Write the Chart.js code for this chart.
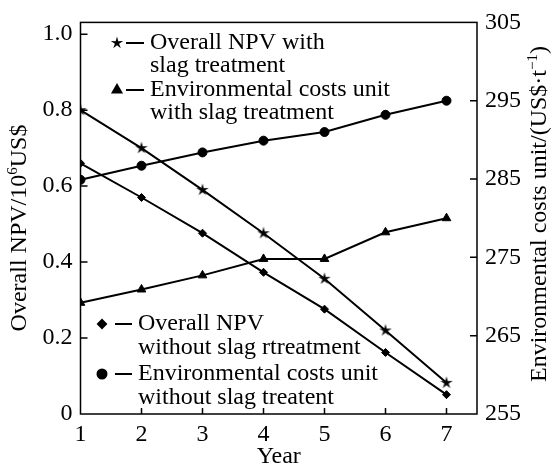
<!DOCTYPE html>
<html>
<head>
<meta charset="utf-8">
<script src="https://cdn.jsdelivr.net/npm/chart.js@4.4.0/dist/chart.umd.min.js"></script>
<style>
  html, body { margin: 0; padding: 0; background: #fff; }
  #wrap { width: 552px; height: 466px; }
</style>
</head>
<body>
<div id="wrap"><canvas id="myChart" width="552" height="466"></canvas></div>
<script>
// values
const years = [1, 2, 3, 4, 5, 6, 7];
const npvWithSlag = [0.80, 0.70, 0.59, 0.476, 0.356, 0.22, 0.082];
const npvWithoutSlag = [0.66, 0.57, 0.476, 0.373, 0.276, 0.162, 0.051];
const costWithSlag = [269.2, 270.9, 272.7, 274.8, 274.8, 278.2, 280.0];
const costWithoutSlag = [284.9, 286.7, 288.4, 289.9, 291.0, 293.2, 295.0];

const npvTicks = [0, 0.2, 0.4, 0.6, 0.8, 1.0];
const costTicks = [255, 265, 275, 285, 295, 305];
const yearTicks = [1, 2, 3, 4, 5, 6, 7];

const FONT = 'Liberation Serif';
const FSIZE = 24;

// small five point star used as point style
const starImg = document.createElement('canvas');
starImg.width = 14;
starImg.height = 14;
(function () {
    var c = starImg.getContext('2d');
    c.fillStyle = '#000';
    c.beginPath();
    for (var i = 0; i < 10; i++) {
        var r = i % 2 === 0 ? 6.5 : 2.2;
        var a = -Math.PI / 2 + i * Math.PI / 5;
        var px = 7 + Math.cos(a) * r, py = 7 + Math.sin(a) * r;
        if (i === 0) c.moveTo(px, py); else c.lineTo(px, py);
    }
    c.closePath();
    c.fill();
})();

const pts = (ys) => years.map((x, i) => ({ x: x, y: ys[i] }));

const legendItems = [
    { style: starImg, r: 5, x: 117, y: 43, dash: [126, 144], tx: 150, gap: 23, lines: ['Overall NPV with', 'slag treatment'] },
    { style: 'triangle', r: 5, x: 117, y: 90, dash: [126, 144], tx: 150, gap: 23, lines: ['Environmental costs unit', 'with slag treatment'] },
    { style: 'rectRot', r: 4, x: 102, y: 324, dash: [115, 132], tx: 138, gap: 24, lines: ['Overall NPV', 'without slag rtreatment'] },
    { style: 'circle', r: 4.5, x: 102, y: 374, dash: [115, 132], tx: 138, gap: 24, lines: ['Environmental costs unit', 'without slag treatent'] }
];

// rotated axis title with a superscript part
function drawVTitle(ctx, cx, cy, parts) {
    ctx.save();
    ctx.translate(cx, cy);
    ctx.rotate(-Math.PI / 2);
    ctx.textBaseline = 'middle';
    ctx.textAlign = 'left';
    var total = 0;
    parts.forEach(p => {
        ctx.font = (p.sup ? 15 : FSIZE) + 'px "' + FONT + '"';
        total += ctx.measureText(p.t).width;
    });
    var x = -total / 2;
    parts.forEach(p => {
        ctx.font = (p.sup ? 15 : FSIZE) + 'px "' + FONT + '"';
        ctx.fillText(p.t, x, p.sup ? -7 : 0);
        x += ctx.measureText(p.t).width;
    });
    ctx.restore();
}

// inside ticks, frame, axis titles and the hand placed legend
const framePlugin = {
    id: 'frame',
    afterDraw(chart) {
        const ctx = chart.ctx;
        const a = chart.chartArea;
        const sx = chart.scales.x, sl = chart.scales.yL, sr = chart.scales.yR;
        ctx.save();
        ctx.strokeStyle = '#000';
        ctx.lineWidth = 1.5;
        ctx.strokeRect(a.left, a.top, a.right - a.left, a.bottom - a.top);
        ctx.beginPath();
        npvTicks.forEach(v => {
            if (v === 0) return;
            const y = sl.getPixelForValue(v);
            ctx.moveTo(a.left, y); ctx.lineTo(a.left + 7, y);
        });
        costTicks.forEach(v => {
            if (v === 255 || v === 305) return;
            const y = sr.getPixelForValue(v);
            ctx.moveTo(a.right, y); ctx.lineTo(a.right - 7, y);
        });
        yearTicks.forEach(v => {
            if (v === 1) return;
            const x = sx.getPixelForValue(v);
            ctx.moveTo(x, a.bottom); ctx.lineTo(x, a.bottom - 6);
        });
        ctx.stroke();

        ctx.fillStyle = '#000';
        drawVTitle(ctx, 20, 228, [{ t: 'Overall NPV/10' }, { t: '6', sup: true }, { t: 'US$' }]);
        drawVTitle(ctx, 540, 214, [{ t: 'Environmental costs unit/(US$\u00b7t' }, { t: '\u22121', sup: true }, { t: ')' }]);

        ctx.font = FSIZE + 'px "' + FONT + '"';
        ctx.textBaseline = 'middle';
        ctx.textAlign = 'left';
        legendItems.forEach(it => {
            Chart.helpers.drawPoint(ctx, { pointStyle: it.style, radius: it.r, borderWidth: 1 }, it.x, it.y);
            ctx.lineWidth = 2;
            ctx.beginPath();
            ctx.moveTo(it.dash[0], it.y);
            ctx.lineTo(it.dash[1], it.y);
            ctx.stroke();
            it.lines.forEach((t, i) => ctx.fillText(t, it.tx, it.y + i * it.gap));
        });
        ctx.restore();
    }
};

const lineDs = (label, data, axis, style, r) => ({
    label: label,
    data: pts(data),
    yAxisID: axis,
    borderColor: '#000',
    backgroundColor: '#000',
    borderWidth: 2,
    pointStyle: style,
    pointRadius: r,
    pointBorderWidth: 1,
    tension: 0
});

Chart.defaults.font.family = FONT;
Chart.defaults.font.size = FSIZE;
Chart.defaults.color = '#000';

const noGrid = { display: false, drawTicks: false, tickLength: 0 };

new Chart(document.getElementById('myChart').getContext('2d'), {
    type: 'line',
    data: {
        datasets: [
            lineDs('Overall NPV with slag treatment', npvWithSlag, 'yL', starImg, 5),
            lineDs('Environmental costs unit with slag treatment', costWithSlag, 'yR', 'triangle', 5),
            lineDs('Overall NPV without slag rtreatment', npvWithoutSlag, 'yL', 'rectRot', 4),
            lineDs('Environmental costs unit without slag treatent', costWithoutSlag, 'yR', 'circle', 4.5)
        ]
    },
    options: {
        responsive: false,
        animation: false,
        layout: { padding: { top: 22, left: 0, right: 0, bottom: 0 } },
        plugins: { legend: { display: false }, tooltip: { enabled: false } },
        scales: {
            x: {
                type: 'linear',
                min: 1,
                max: 7.5,
                afterBuildTicks: s => { s.ticks = yearTicks.map(v => ({ value: v })); },
                afterFit: s => { s.height = 52; },
                grid: noGrid,
                border: { display: false },
                ticks: { padding: 6, maxRotation: 0 },
                title: { display: true, text: 'Year', padding: { top: 0, bottom: -3 }, font: { lineHeight: 1.0 } }
            },
            yL: {
                position: 'left',
                min: 0,
                max: 1.031,
                afterBuildTicks: s => { s.ticks = npvTicks.map(v => ({ value: v })); },
                afterFit: s => { s.width = 80.5; },
                grid: noGrid,
                border: { display: false },
                ticks: { padding: 8, callback: v => v === 0 ? '0' : v.toFixed(1) }
            },
            yR: {
                position: 'right',
                min: 255,
                max: 305,
                afterBuildTicks: s => { s.ticks = costTicks.map(v => ({ value: v })); },
                afterFit: s => { s.width = 75; },
                grid: noGrid,
                border: { display: false },
                ticks: { padding: 8 }
            }
        }
    },
    plugins: [framePlugin]
});
</script>
</body>
</html>
